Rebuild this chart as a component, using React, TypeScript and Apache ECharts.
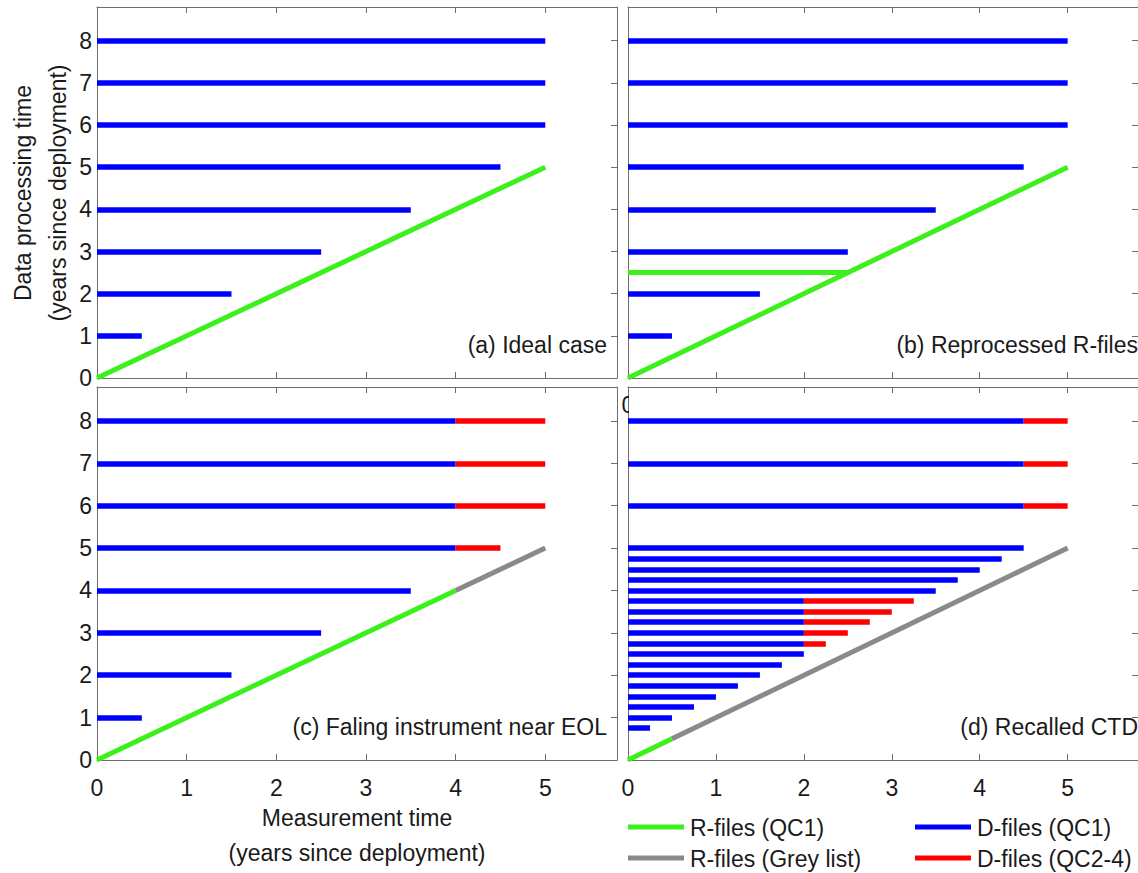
import { useEffect, useRef } from "react";
import * as echarts from "echarts";

const FONT = '"Liberation Sans", Arial, Helvetica, sans-serif';
const FS = 23;

const X_MAX = 5.8;
const Y_MAX = 8.8;

const BLUE = "#0000ff";
const RED = "#ff0000";
const GREEN = "#3cf01c";
const GREY = "#8a8a8a";
const AXIS = "#6e6e6e";
const INK = "#1a1a1a";

// Panel (a): ideal case
const levelsA = [1, 2, 3, 4, 5, 6, 7, 8];
const dEndA = [0.5, 1.5, 2.5, 3.5, 4.5, 5, 5, 5];
const rGoodA = [[0, 0], [5, 5]];

// Panel (b): reprocessed R-files
const levelsB = [1, 2, 3, 4, 5, 6, 7, 8];
const dEndB = [0.5, 1.5, 2.5, 3.5, 4.5, 5, 5, 5];
const rGoodB = [[0, 0], [5, 5]];
const rReprocB = [[0, 2.5], [2.5, 2.5]];

// Panel (c): failing instrument near end of life
const levelsC = [1, 2, 3, 4, 5, 6, 7, 8];
const dBlueEndC = [0.5, 1.5, 2.5, 3.5, 4, 4, 4, 4];
const dRedEndC = [null, null, null, null, 4.5, 5, 5, 5];
const rGoodC = [[0, 0], [4, 4]];
const rGreyC = [[4, 4], [5, 5]];

// Panel (d): recalled CTD
const levelsD = [0.75, 1, 1.25, 1.5, 1.75, 2, 2.25, 2.5, 2.75, 3, 3.25, 3.5, 3.75, 4, 4.25, 4.5, 4.75, 5, 6, 7, 8];
const dBlueEndD = [0.25, 0.5, 0.75, 1, 1.25, 1.5, 1.75, 2, 2, 2, 2, 2, 2, 3.5, 3.75, 4, 4.25, 4.5, 4.5, 4.5, 4.5];
const dRedEndD = [null, null, null, null, null, null, null, null, 2.25, 2.5, 2.75, 3, 3.25, null, null, null, null, null, 5, 5, 5];
const rGoodD = [[0, 0], [0.5, 0.5]];
const rGreyD = [[0.5, 0.5], [5, 5]];

const panelTitles = ["(a) Ideal case", "(b) Reprocessed R-files", "(c) Faling instrument near EOL", "(d) Recalled CTD"];

const legendItems = [
  { name: "R-files (QC1)", color: GREEN },
  { name: "R-files (Grey list)", color: GREY },
  { name: "D-files (QC1)", color: BLUE },
  { name: "D-files (QC2-4)", color: RED },
];

const grids = [
  { left: 97, top: 7, width: 520, height: 371 },
  { left: 628, top: 7, width: 520, height: 371 },
  { left: 97, top: 387, width: 520, height: 373 },
  { left: 628, top: 387, width: 520, height: 373 },
];

function segSeries(name: string, color: string, width: number, idx: number, coords: number[][][]) {
  return {
    type: "lines",
    name,
    coordinateSystem: "cartesian2d",
    xAxisIndex: idx,
    yAxisIndex: idx,
    polyline: false,
    silent: true,
    lineStyle: { color, width, opacity: 1, cap: "butt" },
    data: coords.map((c) => ({ coords: c })),
  };
}

function hBars(levels: number[], starts: (number | null)[], ends: (number | null)[]) {
  const out: number[][][] = [];
  levels.forEach((y, i) => {
    const s = starts[i];
    const e = ends[i];
    if (s == null || e == null) return;
    out.push([[s, y], [e, y]]);
  });
  return out;
}

const intLabel = (v: number) => (Number.isInteger(v) ? String(v) : "");

function axisBase(showLabel: boolean, margin: number) {
  return {
    type: "value",
    interval: 1,
    axisLine: { show: true, onZero: false, lineStyle: { color: AXIS, width: 1 } },
    axisTick: { show: true, inside: true, length: 6, lineStyle: { color: AXIS, width: 1 } },
    axisLabel: {
      show: showLabel,
      margin,
      color: INK,
      fontSize: FS,
      fontFamily: FONT,
      formatter: intLabel,
      showMaxLabel: false,
    },
    splitLine: { show: false },
  };
}

export default function App() {
  const ref = useRef<HTMLDivElement>(null);

  useEffect(() => {
    if (!ref.current) return;
    const chart = echarts.init(ref.current, undefined, { renderer: "svg" });

    const xAxes: any[] = [];
    const yAxes: any[] = [];
    grids.forEach((_, i) => {
      xAxes.push({ ...axisBase(i >= 2, 16), gridIndex: i, position: "bottom", min: 0, max: X_MAX });
      yAxes.push({ ...axisBase(i % 2 === 0, 5), gridIndex: i, position: "left", min: 0, max: Y_MAX });
    });
    grids.forEach((_, i) => {
      xAxes.push({ ...axisBase(false, 0), gridIndex: i, position: "top", min: 0, max: X_MAX });
      yAxes.push({ ...axisBase(false, 0), gridIndex: i, position: "right", min: 0, max: Y_MAX });
    });

    const zeros = (n: number) => new Array(n).fill(0);

    const series: any[] = [
      // (a)
      segSeries("D-files (QC1)", BLUE, 5.5, 0, hBars(levelsA, zeros(levelsA.length), dEndA)),
      segSeries("R-files (QC1)", GREEN, 5, 0, [rGoodA]),
      // (b)
      segSeries("D-files (QC1)", BLUE, 5.5, 1, hBars(levelsB, zeros(levelsB.length), dEndB)),
      segSeries("R-files (QC1)", GREEN, 5, 1, [rGoodB, rReprocB]),
      // (c)
      segSeries("D-files (QC1)", BLUE, 5.5, 2, hBars(levelsC, zeros(levelsC.length), dBlueEndC)),
      segSeries("D-files (QC2-4)", RED, 5.5, 2, hBars(levelsC, dBlueEndC, dRedEndC)),
      segSeries("R-files (QC1)", GREEN, 5, 2, [rGoodC]),
      segSeries("R-files (Grey list)", GREY, 5, 2, [rGreyC]),
      // (d)
      segSeries("D-files (QC1)", BLUE, 5.5, 3, hBars(levelsD, zeros(levelsD.length), dBlueEndD)),
      segSeries("D-files (QC2-4)", RED, 5.5, 3, hBars(levelsD, dBlueEndD, dRedEndD)),
      segSeries("R-files (Grey list)", GREY, 5, 3, [rGreyD]),
      segSeries("R-files (QC1)", GREEN, 5, 3, [rGoodD]),
    ];

    const textStyle = (text: string, extra: any = {}) => ({
      text,
      fill: INK,
      fontSize: FS,
      fontFamily: FONT,
      ...extra,
    });

    const titlePos = [
      [607, 345],
      [1138, 345],
      [607, 727],
      [1138, 727],
    ];

    const graphics: any[] = [];

    // x tick label "0" of panel (b), partly hidden behind panel (d)
    graphics.push({
      type: "text",
      x: 628,
      y: 405,
      z: 1,
      style: textStyle("0", { align: "center", verticalAlign: "middle" }),
    });
    graphics.push({
      type: "rect",
      z: 2,
      shape: { x: 629, y: 392, width: 14, height: 26 },
      style: { fill: "#ffffff" },
    });

    panelTitles.forEach((t, i) => {
      graphics.push({
        type: "text",
        x: titlePos[i][0],
        y: titlePos[i][1],
        z: 10,
        style: textStyle(t, { align: "right", verticalAlign: "middle" }),
      });
    });

    graphics.push({
      type: "text",
      x: 40,
      y: 193,
      rotation: Math.PI / 2,
      z: 10,
      style: textStyle("Data processing time\n(years since deployment)", {
        align: "center",
        verticalAlign: "middle",
        lineHeight: 35,
      }),
    });

    graphics.push({
      type: "text",
      x: 357,
      y: 835.5,
      z: 10,
      style: textStyle("Measurement time\n(years since deployment)", {
        align: "center",
        verticalAlign: "middle",
        lineHeight: 35,
      }),
    });

    const legendPos = [
      [628, 827],
      [628, 858],
      [915, 827],
      [915, 858],
    ];
    legendItems.forEach((item, i) => {
      const [lx, ly] = legendPos[i];
      graphics.push({
        type: "line",
        z: 10,
        shape: { x1: lx, y1: ly, x2: lx + 56, y2: ly },
        style: { stroke: item.color, lineWidth: 5 },
      });
      graphics.push({
        type: "text",
        x: lx + 62,
        y: ly + 1,
        z: 10,
        style: textStyle(item.name, { align: "left", verticalAlign: "middle" }),
      });
    });

    chart.setOption({
      animation: false,
      backgroundColor: "#ffffff",
      grid: grids.map((g) => ({ ...g, containLabel: false })),
      xAxis: xAxes,
      yAxis: yAxes,
      series,
      graphic: graphics,
    });

    return () => chart.dispose();
  }, []);

  return (
    <div
      ref={ref}
      style={{ position: "fixed", left: 0, top: 0, width: 1138, height: 873, background: "#fff" }}
    />
  );
}
